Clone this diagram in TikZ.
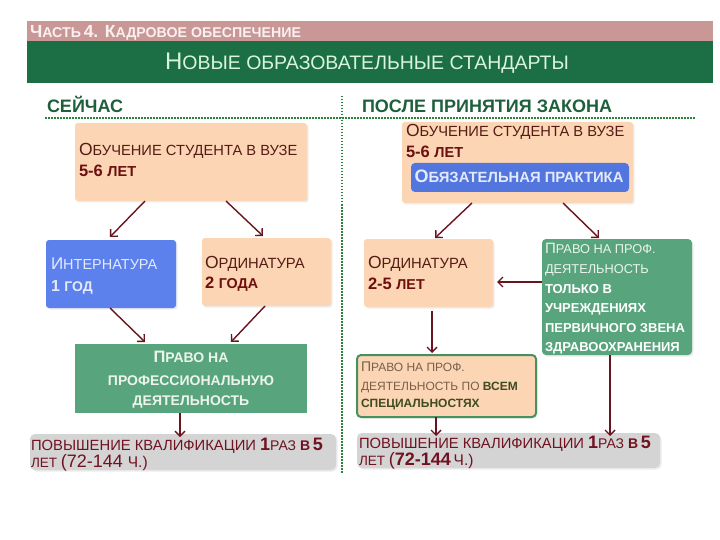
\documentclass[tikz,border=0pt]{standalone}
\usepackage{fontspec}
\setmainfont{Liberation Sans}
\usetikzlibrary{arrows.meta,shadows}
\newcommand\fs[2]{{\fontsize{#1}{#1}\selectfont #2}}
\definecolor{pinkbar}{RGB}{201,152,150}
\definecolor{greenbar}{RGB}{28,110,68}
\definecolor{titletxt}{RGB}{218,245,218}
\definecolor{parttxt}{RGB}{250,240,240}
\definecolor{headgreen}{RGB}{30,95,60}
\definecolor{dotgreen}{RGB}{40,130,60}
\definecolor{peach}{RGB}{252,213,180}
\definecolor{bluebox}{RGB}{92,128,236}
\definecolor{bluein}{RGB}{82,118,222}
\definecolor{greenbox}{RGB}{88,165,125}
\definecolor{greenborder}{RGB}{70,145,95}
\definecolor{greybox}{RGB}{212,212,212}
\definecolor{browntxt}{RGB}{85,28,22}
\definecolor{redtxt}{RGB}{108,15,15}
\definecolor{arrowc}{RGB}{105,20,30}
\definecolor{lighttxt}{RGB}{236,244,236}
\definecolor{bluetxt}{RGB}{228,234,252}
\definecolor{olivetxt}{RGB}{62,75,35}
\definecolor{greytxt}{RGB}{120,95,75}
\definecolor{greyred}{RGB}{112,18,32}
\begin{document}
\begin{tikzpicture}[x=1pt,y=-1pt,
  box/.style={inner sep=0pt,outer sep=0pt,anchor=north west,rounded corners=3pt},
  txt/.style={inner sep=0pt,outer sep=0pt,anchor=base west},
  arr/.style={draw=arrowc,line width=1.4pt,-{Straight Barb[length=5pt,width=10pt,line width=1.4pt]}},
  dotline/.style={draw=dotgreen,line width=1.8pt,dash pattern=on 1.5pt off 1.5pt},
  shade/.style={drop shadow={opacity=0.15,shadow xshift=1.5pt,shadow yshift=-1.5pt}}]
\useasboundingbox[fill=white] (0,0) rectangle (720,540);
% header bars
\node[box,rounded corners=0pt,fill=pinkbar,minimum width=686pt,minimum height=20pt] (pinkbar) at (27,21) {};
\node[box,rounded corners=0pt,fill=greenbar,minimum width=686pt,minimum height=42pt] (greenbar) at (27,41) {};
\node[txt,text=parttxt,font=\bfseries] (part) at (30,38) {\fs{17.5}{Ч}\fs{14.2}{АСТЬ} \fs{17.5}{4. К}\fs{14.2}{АДРОВОЕ ОБЕСПЕЧЕНИЕ}};
\node[txt,anchor=base,text=titletxt] (title) at (367,70) {\fs{24}{Н}\fs{19.5}{ОВЫЕ ОБРАЗОВАТЕЛЬНЫЕ СТАНДАРТЫ}};
% section headers
\node[txt,font=\bfseries\fontsize{18}{18}\selectfont,text=headgreen] (now) at (47,113) {СЕЙЧАС};
\node[txt,font=\bfseries\fontsize{18}{18}\selectfont,text=headgreen] (after) at (362,113) {ПОСЛЕ ПРИНЯТИЯ ЗАКОНА};
\coordinate (hl1) at (45,118);
\coordinate (hl2) at (695,118);
\coordinate (vl1) at (342,96);
\coordinate (vl2) at (342,474);
\draw[dotline] (hl1) -- (hl2);
\draw[dotline] (vl1) -- (vl2);
% left column
\node[box,shade,fill=peach,minimum width=232pt,minimum height=78pt] (top1) at (75,123) {};
\node[txt,text=browntxt] (t1a) at (79,156) {\fs{17.5}{О}\fs{14.7}{БУЧЕНИЕ СТУДЕНТА В ВУЗЕ}};
\node[txt,text=redtxt,font=\bfseries] (t1b) at (79,177) {\fs{16.5}{5-6 }\fs{14.5}{ЛЕТ}};
\node[box,shade,fill=bluebox,minimum width=130pt,minimum height=68pt] (intern) at (46,240) {};
\node[txt,text=bluetxt] (i1) at (51,269) {\fs{17}{И}\fs{14.5}{НТЕРНАТУРА}};
\node[txt,text=bluetxt,font=\bfseries] (i2) at (51,291) {\fs{16}{1 }\fs{14}{ГОД}};
\node[box,shade,fill=peach,minimum width=129pt,minimum height=68pt] (ordL) at (202,238) {};
\node[txt,text=browntxt] (o1) at (205,268) {\fs{17.5}{О}\fs{14.8}{РДИНАТУРА}};
\node[txt,text=redtxt,font=\bfseries] (o2) at (205,288) {\fs{16.5}{2 }\fs{14.3}{ГОДА}};
\node[box,rounded corners=0pt,fill=greenbox,minimum width=232pt,minimum height=69pt] (greenL) at (75,344) {};
\node[txt,anchor=base,text=lighttxt,font=\bfseries] (g1) at (191,362) {\fs{16.5}{П}\fs{14}{РАВО НА}};
\node[txt,anchor=base,text=lighttxt,font=\bfseries] (g2) at (191,385) {\fs{14}{ПРОФЕССИОНАЛЬНУЮ}};
\node[txt,anchor=base,text=lighttxt,font=\bfseries] (g3) at (191,405) {\fs{14}{ДЕЯТЕЛЬНОСТЬ}};
\node[box,shade,fill=greybox,rounded corners=5pt,minimum width=306pt,minimum height=36pt] (greyL) at (30,434) {};
\node[txt,text=greyred] (q1) at (31,450) {\fs{14.8}{ПОВЫШЕНИЕ КВАЛИФИКАЦИИ }\textbf{\fs{18}{1}}\fs{14}{РАЗ }\textbf{\fs{14}{В} \fs{18}{5}}};
\node[txt,text=greyred] (q2) at (31,467) {\fs{13.5}{ЛЕТ }\fs{18}{(72-144 }\fs{15.5}{Ч.)}};
% right column
\node[box,shade,fill=peach,minimum width=231pt,minimum height=81pt] (top2) at (402,122) {};
\node[txt,text=browntxt] (t2a) at (406,137) {\fs{17.5}{О}\fs{14.7}{БУЧЕНИЕ СТУДЕНТА В ВУЗЕ}};
\node[txt,text=redtxt,font=\bfseries] (t2b) at (406,158) {\fs{16.5}{5-6 }\fs{14.5}{ЛЕТ}};
\node[box,fill=bluein,rounded corners=4pt,minimum width=218pt,minimum height=29pt] (prac) at (411,163) {};
\node[txt,anchor=base,text=bluetxt,font=\bfseries] (p1) at (519,183) {\fs{18}{О}\fs{14.8}{БЯЗАТЕЛЬНАЯ ПРАКТИКА}};
\node[box,shade,fill=peach,minimum width=129pt,minimum height=68pt] (ordR) at (364,239) {};
\node[txt,text=browntxt] (r1) at (368,268) {\fs{17.5}{О}\fs{14.8}{РДИНАТУРА}};
\node[txt,text=redtxt,font=\bfseries] (r2) at (368,289) {\fs{16.5}{2-5 }\fs{14.3}{ЛЕТ}};
\node[box,shade,fill=greenbox,rounded corners=4pt,minimum width=150pt,minimum height=116pt] (greenR) at (542,239) {};
\node[txt,text=lighttxt] (s1) at (545,253) {\fs{15}{П}\fs{12.8}{РАВО НА ПРОФ.}};
\node[txt,text=lighttxt] (s2) at (545,273) {\fs{12.8}{ДЕЯТЕЛЬНОСТЬ}};
\node[txt,text=white,font=\bfseries] (s3) at (545,293) {\fs{13}{ТОЛЬКО В}};
\node[txt,text=white,font=\bfseries] (s4) at (545,312) {\fs{13}{УЧРЕЖДЕНИЯХ}};
\node[txt,text=white,font=\bfseries] (s5) at (545,332) {\fs{13}{ПЕРВИЧНОГО ЗВЕНА}};
\node[txt,text=white,font=\bfseries] (s6) at (545,351) {\fs{13}{ЗДРАВООХРАНЕНИЯ}};
\node[box,shade,fill=peach,draw=greenborder,line width=2pt,rounded corners=4pt,minimum width=179pt,minimum height=62pt] (pgbox) at (357,355) {};
\node[txt,text=greytxt] (v1) at (361,371) {\fs{14}{П}\fs{12}{РАВО НА ПРОФ.}};
\node[txt,text=greytxt] (v2) at (361,390) {\fs{12}{ДЕЯТЕЛЬНОСТЬ ПО }\textcolor{olivetxt}{\bfseries\fs{12}{ВСЕМ}}};
\node[txt,text=olivetxt,font=\bfseries] (v3) at (361,407) {\fs{12}{СПЕЦИАЛЬНОСТЯХ}};
\node[box,shade,fill=greybox,rounded corners=5pt,minimum width=303pt,minimum height=35pt] (greyR) at (357,433) {};
\node[txt,text=greyred] (w1) at (359,448) {\fs{14.8}{ПОВЫШЕНИЕ КВАЛИФИКАЦИИ }\textbf{\fs{18}{1}}\fs{14}{РАЗ }\textbf{\fs{14}{В} \fs{18}{5}}};
\node[txt,text=greyred] (w2) at (359,465) {\fs{13.5}{ЛЕТ }\fs{18}{(}\textbf{\fs{18}{72-144}} \fs{15.5}{Ч.)}};
% arrows left
\draw[arr] ([xshift=70pt]top1.south west) -- ([xshift=64pt,yshift=3pt]intern.north west);
\draw[arr] ([xshift=151pt]top1.south west) -- ([xshift=61pt,yshift=2pt]ordL.north west);
\draw[arr] ([xshift=64pt]intern.south west) -- ([xshift=70pt,yshift=2pt]greenL.north west);
\draw[arr] ([xshift=63pt]ordL.south west) -- ([xshift=156pt,yshift=2pt]greenL.north west);
\draw[arr] ([xshift=105pt]greenL.south west) -- ([xshift=150pt,yshift=-3pt]greyL.north west);
% arrows right
\draw[arr] ([xshift=70pt]top2.south west) -- ([xshift=71pt,yshift=1pt]ordR.north west);
\draw[arr] ([xshift=161pt]top2.south west) -- ([xshift=57pt,yshift=1pt]greenR.north west);
\draw[arr] ([yshift=-43pt]greenR.north west) -- ([xshift=4pt,yshift=-9pt]ordR.east);
\draw[arr] ([xshift=68pt,yshift=-4pt]ordR.south west) -- ([xshift=75pt,yshift=2pt]pgbox.north west);
\draw[arr] ([xshift=79pt]pgbox.south west) -- ([xshift=79pt,yshift=-3pt]greyR.north west);
\draw[arr] ([xshift=68pt]greenR.south west) -- ([xshift=253pt,yshift=-3pt]greyR.north west);
\end{tikzpicture}
\end{document}
